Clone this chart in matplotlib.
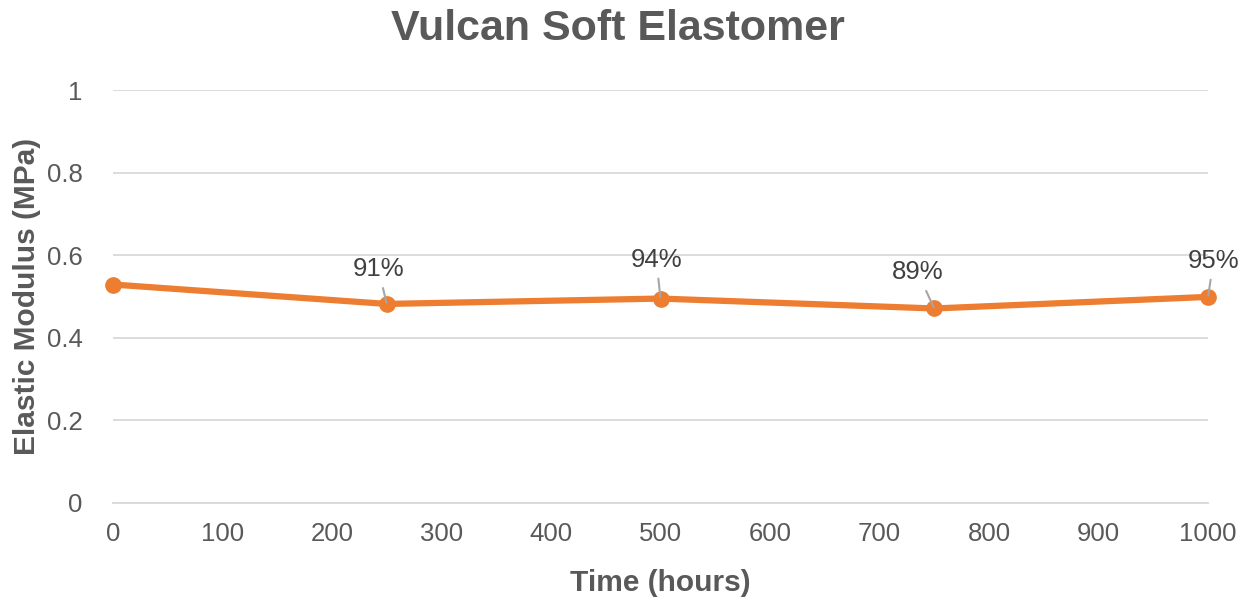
import matplotlib
matplotlib.use('Agg')
import matplotlib.pyplot as plt

# data
hours = [0, 250, 500, 750, 1000]
modulus = [0.529, 0.482, 0.495, 0.471, 0.499]
retention = ['', '91%', '94%', '89%', '95%']

x_ticks = list(range(0, 1001, 100))
y_ticks = [0, 0.2, 0.4, 0.6, 0.8, 1]
y_ticklabels = ['0', '0.2', '0.4', '0.6', '0.8', '1']

# label offsets in points (text centre relative to point)
label_offsets = [None, (-6, 25), (-3, 28), (-12, 26), (4, 26)]

plt.rcParams['font.family'] = ['Liberation Sans', 'DejaVu Sans']

orange = '#ED7D31'
grey = '#595959'

fig = plt.figure(figsize=(12.49, 6.01), dpi=100)
ax = fig.add_axes([113 / 1249, 1 - 503 / 601, (1208 - 113) / 1249, (503 - 90) / 601])

ax.plot(hours, modulus, '-o', color=orange, linewidth=4.5, markersize=11,
        solid_capstyle='round', zorder=3, clip_on=False)

for x, y, lab, off in zip(hours, modulus, retention, label_offsets):
    if not lab:
        continue
    ax.annotate(lab, xy=(x, y), xytext=off, textcoords='offset points',
                ha='center', va='center', fontsize=18.5, color='#404040',
                arrowprops=dict(arrowstyle='-', color='#A6A6A6', lw=1.5,
                                shrinkA=3, shrinkB=1),
                zorder=4, annotation_clip=False)

ax.set_xlim(0, 1000)
ax.set_ylim(0, 1)
ax.set_xticks(x_ticks)
ax.set_yticks(y_ticks)
ax.set_yticklabels(y_ticklabels)
ax.grid(axis='y', color='#D9D9D9', linewidth=1.3)
ax.set_axisbelow(True)
for s in ['top', 'right', 'left']:
    ax.spines[s].set_visible(False)
ax.spines['bottom'].set_color('#D9D9D9')
ax.spines['bottom'].set_linewidth(1.3)
ax.tick_params(length=0, labelsize=18.5, colors=grey, pad=14)
ax.tick_params(axis='y', pad=22)

ax.set_xlabel('Time (hours)', fontsize=21.5, fontweight='bold', color=grey, labelpad=16)
ax.set_ylabel('Elastic Modulus (MPa)', fontsize=21.5, fontweight='bold', color=grey, labelpad=4)
fig.text(618 / 1249, 1 - 29 / 601, 'Vulcan Soft Elastomer', ha='center', va='center',
         fontsize=31, fontweight='bold', color=grey)

fig.savefig('out.png', dpi=100, facecolor='white')
